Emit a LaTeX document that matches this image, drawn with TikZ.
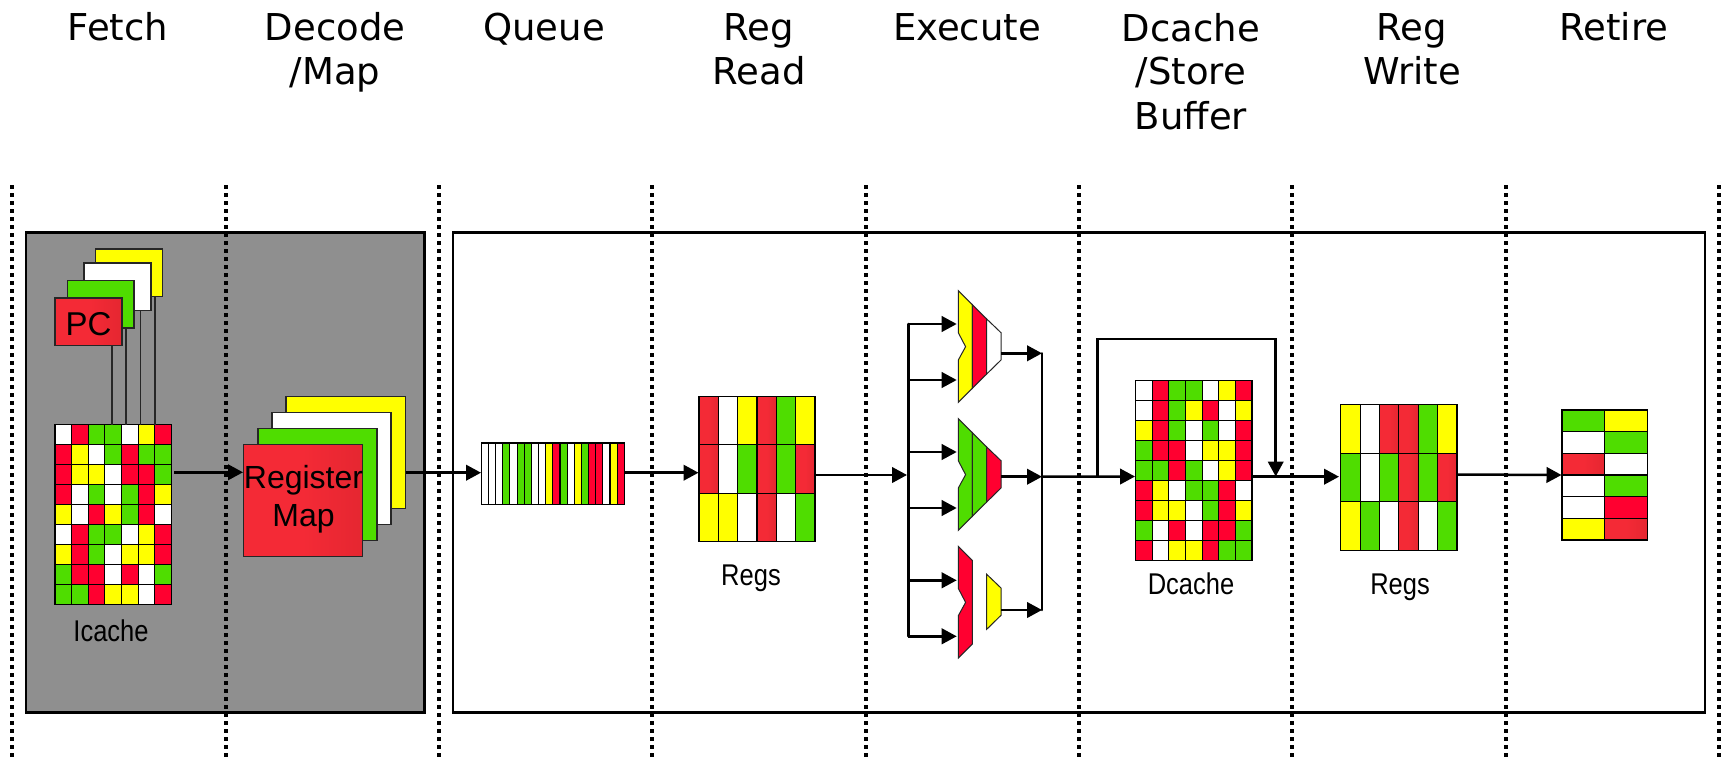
\documentclass[tikz,border=0pt]{standalone}
\usepackage{fontspec}
\setmainfont{Liberation Sans}
\newfontfamily\headfont{DejaVu Sans}
\newfontfamily\narrowfont[FakeStretch=0.85]{Liberation Sans}
\usetikzlibrary{arrows.meta}
\definecolor{cellred}{HTML}{FF0030}
\definecolor{cellgreen}{HTML}{4FDD00}
\definecolor{cellyellow}{HTML}{FFFF00}
\definecolor{redL}{HTML}{F42A36}
\definecolor{redD}{HTML}{D6232B}
\definecolor{panelgray}{HTML}{8F8F8F}
\pgfdeclarehorizontalshading{redsh}{100bp}{color(0bp)=(redL); color(50bp)=(redL); color(100bp)=(redD)}
\tikzset{
  x=1pt,y=-1pt,
  cellR/.style={fill=cellred},
  cellG/.style={fill=cellgreen},
  cellY/.style={fill=cellyellow},
  cellW/.style={fill=white},
  cellS/.style={shading=redsh},
  blockedge/.style={draw=black,line width=1.1pt},
  blockbox/.style={anchor=north west,inner sep=0pt,outer sep=0pt,minimum width=0pt,minimum height=0pt},
  panel/.style={draw=black,line width=2.5pt},
  stage/.style={draw=black!85,line width=1.2pt},
  sep/.style={draw=black,line width=4pt,dash pattern=on 4pt off 4pt},
  wire/.style={draw=black,line width=2.5pt},
  flow/.style={wire,-{Triangle[length=15pt,width=15.5pt]}},
  thin wire/.style={draw=black!85,line width=1.6pt},
  head/.style={font=\headfont\fontsize{37}{44}\selectfont,align=center,anchor=north,inner sep=0pt},
  tag/.style={font=\narrowfont\fontsize{30}{34}\selectfont,anchor=base,inner sep=0pt},
  inner text/.style={font=\fontsize{32}{38}\selectfont,align=center,inner sep=0pt},
  unit/.style={draw=black!85,line width=1pt},
}
\newcommand{\gridblock}[8]{% name, x, y, w, h, cols, rows, data
  \pgfmathsetmacro{\cw}{#4/#6}\pgfmathsetmacro{\ch}{#5/#7}
  \foreach \rw [count=\cj from 0] in {#8}{
    \foreach \cc [count=\ci from 0] in \rw {
      \path[cell\cc,blockedge] (#2+\ci*\cw,#3+\cj*\ch) rectangle ++(\cw,\ch);
    }
  }
  \node[blockbox,minimum width=#4pt,minimum height=#5pt] (#1) at (#2,#3) {};
}
\newcommand{\stackrect}[6]{% name, x0,y0,x1,y1, style
  \path[#6] (#2,#3) rectangle (#4,#5);
  \coordinate (#1) at (#2,#3);
}
\newcommand{\fuseg}[3]{% seg (1,2,3), dy, colour
  \ifcase#1\or
  \path[unit,fill=#3] (958.3,290.7+#2) -- (972.3,304.7+#2) -- (972.3,388.3+#2) -- (958.3,402.3+#2) -- (958.3,360+#2) -- (965.6,346.7+#2) -- (958.3,332.7+#2) -- cycle;
  \or
  \path[unit,fill=#3] (972.3,304.7+#2) -- (986.7,319+#2) -- (986.7,374+#2) -- (972.3,388.3+#2) -- cycle;
  \or
  \path[unit,fill=#3] (986.7,319+#2) -- (1001,332.7+#2) -- (1001,360+#2) -- (986.7,374+#2) -- cycle;
  \fi
}
\begin{document}
\begin{tikzpicture}
\useasboundingbox (0,0) rectangle (1723,757);
\fill[white] (0,0) rectangle (1723,757);

% panels
\path[panel,fill=panelgray] (26,232.7) rectangle (424.5,712.6);
\path[panel,fill=white] (453,232.7) rectangle (1705,712.6);

% stage separators
\foreach \sx [count=\sn] in {12,225.5,439,652,865.5,1078.5,1292,1505.7,1719}{
  \coordinate (septop\sn) at (\sx,185);
  \coordinate (sepbot\sn) at (\sx,757);
  \path[sep] (septop\sn) -- (sepbot\sn);
}

% headers
\node[head] (hfetch) at (118,10) {\strut Fetch};
\node[head] (hdecode) at (335,10) {\strut Decode\\/Map};
\node[head] (hqueue) at (544,10) {\strut Queue};
\node[head] (hread) at (759,10) {\strut Reg\\Read};
\node[head] (hexec) at (967,10) {\strut Execute};
\node[head] (hdcache) at (1191,10) {\strut Dcache\\/Store\\Buffer};
\node[head] (hwrite) at (1412,10) {\strut Reg\\Write};
\node[head] (hretire) at (1614,10) {\strut Retire};

% PC stack
\stackrect{pcy}{95.7}{249}{162.7}{296.3}{stage,fill=cellyellow}
\stackrect{pcw}{84}{263}{151}{310.5}{stage,fill=white}
\stackrect{pcg}{67.5}{280.7}{134}{328}{stage,fill=cellgreen}
\stackrect{pcr}{55}{298}{122}{345.5}{stage,shading=redsh}
\node[inner sep=0pt,anchor=base,font=\fontsize{33}{36}\selectfont] (pclabel) at (88.5,335) {PC};

% Icache
\gridblock{icache}{55}{424.7}{116.3}{179.6}{7}{9}{
 {W,R,G,G,W,Y,R},{R,Y,W,G,R,G,G},{R,Y,Y,W,R,R,G},{R,W,G,W,G,R,Y},{Y,W,R,Y,G,R,W},
 {W,R,G,G,W,Y,R},{Y,R,G,W,Y,Y,R},{G,R,R,W,R,W,G},{G,G,R,Y,Y,W,R}}
\coordinate (pc1) at (112,345.5);\coordinate (ic1) at (112,424.7);
\coordinate (pc2) at (126,328);\coordinate (ic2) at (126,424.7);
\coordinate (pc3) at (140.3,310.5);\coordinate (ic3) at (140.3,424.7);
\coordinate (pc4) at (154.7,296.3);\coordinate (ic4) at (154.7,424.7);
\path[thin wire] (pc1)--(ic1) (pc2)--(ic2) (pc3)--(ic3) (pc4)--(ic4);
\node[tag] (iclabel) at (111,641.7) {Icache};

% Register map stack
\stackrect{rmy}{286}{396.7}{405.5}{508.7}{stage,fill=cellyellow}
\stackrect{rmw}{272}{412.7}{391}{524.7}{stage,fill=white}
\stackrect{rmg}{258}{428.7}{377}{540.7}{stage,fill=cellgreen}
\stackrect{rmr}{243.3}{444.3}{362.7}{556.7}{stage,shading=redsh}
\node[inner text] (rmlabel) at (303.5,499) {Register\\Map};

% Queue
\gridblock{queue}{481.3}{443}{143}{61.7}{20}{1}{{W,W,W,G,W,G,G,W,W,Y,R,G,W,Y,G,R,R,W,Y,R}}

% Regs read
\gridblock{regsr}{699}{396.3}{116}{145.4}{6}{3}{{S,W,Y,S,G,Y},{S,W,G,S,G,S},{Y,Y,W,S,W,G}}
\node[tag] (rrlabel) at (751,585) {Regs};

% Execute units
\fuseg{1}{0}{cellyellow}\fuseg{2}{0}{cellred}\fuseg{3}{0}{white}
\fuseg{1}{128}{cellgreen}\fuseg{2}{128}{cellgreen}\fuseg{3}{128}{cellred}
\fuseg{1}{255.7}{cellred}\fuseg{3}{255.3}{cellyellow}

% Dcache
\gridblock{dcache}{1135.7}{380.7}{116.3}{179.6}{7}{9}{
 {W,R,G,G,W,Y,R},{W,R,G,Y,R,W,Y},{Y,R,G,W,G,W,R},{G,R,R,W,Y,Y,R},{G,G,R,G,W,Y,R},
 {R,Y,W,G,G,R,W},{R,Y,Y,W,G,R,Y},{G,W,R,W,R,R,G},{R,W,Y,Y,R,G,G}}
\node[tag] (dclabel) at (1191,594) {Dcache};

% Regs write
\gridblock{regsw}{1340.7}{404.7}{116.3}{145.6}{6}{3}{{Y,W,S,S,G,Y},{G,W,G,S,G,S},{Y,G,W,S,W,G}}
\node[tag] (rwlabel) at (1400,594) {Regs};

% Retire
\gridblock{retire}{1562}{410}{85.3}{130}{2}{6}{{G,Y},{W,G},{S,W},{W,G},{W,R},{Y,S}}

% connector anchors
\coordinate (icout) at (174,472.3);
\coordinate (rmin) at (243,472.3);
\coordinate (rmout) at (405.5,472.7);
\coordinate (qin) at (481,472.7);
\coordinate (qout) at (624.3,472.7);
\coordinate (rrin) at (698.5,472.7);
\coordinate (rrout) at (815,475);
\coordinate (busin) at (907,475);
\coordinate (bustop) at (908.3,324);
\coordinate (busbot) at (908.3,636.3);
\coordinate (fu1a) at (956.7,324);
\coordinate (fu1b) at (956.7,380);
\coordinate (fu2a) at (956.7,452);
\coordinate (fu2b) at (956.7,508);
\coordinate (fu3a) at (956.7,580.3);
\coordinate (fu3b) at (956.7,636.3);
\coordinate (tap1) at (908.3,380);
\coordinate (tap2) at (908.3,452);
\coordinate (tap3) at (908.3,508);
\coordinate (tap4) at (908.3,580.3);
\coordinate (fo1) at (1001,353.3);
\coordinate (fo2) at (1001,476.7);
\coordinate (fo3) at (1001,610);
\coordinate (col1) at (1042,353.3);
\coordinate (col2) at (1042,476.7);
\coordinate (col3) at (1042,610);
\coordinate (dcin) at (1135,476.5);
\coordinate (fbstart) at (1097.3,476.5);
\coordinate (fbend) at (1275.7,476.5);
\coordinate (dcout) at (1252,476.7);
\coordinate (rwin) at (1339,476.7);
\coordinate (rwout) at (1457,474.5);
\coordinate (rtin) at (1561.5,475);

% connectors
\path[flow] (icout) -- (rmin);
\path[flow] (rmout) -- (qin);
\path[flow] (qout) -- (rrin);
\path[flow] (rrout) -- (busin);
\path[wire,line cap=round] (bustop) -- (busbot);
\path[flow] (bustop) -- (fu1a);
\path[flow] (tap1) -- (fu1b);
\path[flow] (tap2) -- (fu2a);
\path[flow] (tap3) -- (fu2b);
\path[flow] (tap4) -- (fu3a);
\path[flow] (busbot) -- (fu3b);
\path[flow] (fo1) -- (col1);
\path[flow] (fo2) -- (col2);
\path[flow] (fo3) -- (col3);
\path[wire,line cap=round] (col1) -- (col3);
\path[flow] (col2) -- (dcin);
\path[flow,line join=miter] (fbstart) |- (1275.7,339) -- (fbend);
\path[flow] (dcout) -- (rwin);
\path[flow] (rwout) -- (rtin);
\end{tikzpicture}
\end{document}
